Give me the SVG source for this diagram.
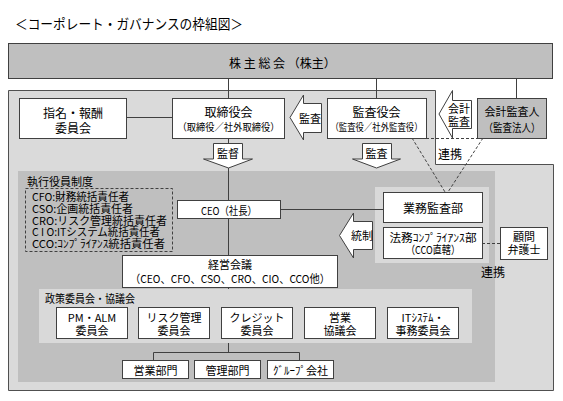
<svg xmlns="http://www.w3.org/2000/svg" width="563" height="401" viewBox="0 0 563 401">
<style>
.box{fill:#fff;stroke:#404040;stroke-width:1}
.gbox{fill:#bfbfbf;stroke:#404040;stroke-width:1}
.arr{fill:#fff;stroke:#404040;stroke-width:1}
.ln{stroke:#404040;stroke-width:1;fill:none}
.dl{stroke:#404040;stroke-width:1;fill:none;stroke-dasharray:3,2}
text{font-family:"Noto Sans CJK JP","Noto Sans",sans-serif;fill:#000;dominant-baseline:central}
.c{text-anchor:middle}
.s12{font-size:12px}
.s11{font-size:11px}
.s10{font-size:10px}
</style>
<rect x="0" y="0" width="563" height="401" fill="#fff"/>
<text x="15" y="23" font-size="14" textLength="228" lengthAdjust="spacingAndGlyphs">＜コーポレート・ガバナンスの枠組図＞</text>

<g id="backgrounds">
<polygon points="8.5,90.5 435.5,90.5 435.5,164.5 553.5,164.5 553.5,390.5 8.5,390.5" fill="#dadada" stroke="#505050" stroke-width="1"/>
<rect x="18" y="171" width="477" height="211" fill="#bfbfbf"/>
<rect x="375" y="187" width="114" height="76" fill="#d9d9d9"/>
<rect x="39" y="289" width="433" height="54" fill="#d9d9d9"/>
<text x="27" y="180.5" class="s11">執行役員制度</text>
<text x="45" y="298" class="s11" textLength="90" lengthAdjust="spacingAndGlyphs">政策委員会・協議会</text>
</g>

<g id="connectors">
<line class="ln" x1="228.5" y1="78" x2="228.5" y2="98"/>
<line class="ln" x1="376.5" y1="78" x2="376.5" y2="98"/>
<line class="ln" x1="516.5" y1="78" x2="516.5" y2="98"/>
<line class="ln" x1="126" y1="117.5" x2="172" y2="117.5"/>
<line class="ln" x1="228.5" y1="138" x2="228.5" y2="200"/>
<line class="ln" x1="228.5" y1="218" x2="228.5" y2="255"/>
<line class="ln" x1="228.5" y1="287" x2="228.5" y2="289"/>
<line class="ln" x1="228.5" y1="343" x2="228.5" y2="352.5"/>
<polyline class="ln" points="153.5,360 153.5,352.5 299.5,352.5 299.5,360"/>
<line class="ln" x1="280" y1="209.5" x2="383" y2="209.5"/>
<line class="dl" x1="426" y1="138.5" x2="477" y2="138.5"/>
<line class="dl" x1="412" y1="138" x2="445" y2="192"/>
<line class="dl" x1="483" y1="138" x2="448" y2="192"/>
<line class="dl" x1="482" y1="243.5" x2="500" y2="243.5"/>
<text x="450" y="153" class="c s12">連携</text>
<text x="493" y="271" class="c s12">連携</text>
</g>

<g id="arrows">
<g id="arrow-kantoku">
<polygon class="arr" points="213.5,143.5 242.5,143.5 242.5,159 252.5,159 228.5,168 203.5,159 213.5,159"/>
<text x="228" y="153" class="c s11">監督</text>
</g>
<g id="arrow-kansa-down">
<polygon class="arr" points="362.5,143.5 391.5,143.5 391.5,159 400.5,159 376.5,168 352.5,159 362.5,159"/>
<text x="376.5" y="153" class="c s11">監査</text>
</g>
<g id="arrow-kansa-left">
<polygon class="arr" points="321.5,103.5 303.5,103.5 303.5,95 290,117.5 303.5,140 303.5,132.5 321.5,132.5"/>
<text x="310" y="118" class="c s11">監査</text>
</g>
<g id="arrow-kaikei">
<polygon class="arr" points="471.5,100.5 452.5,100.5 452.5,90.5 439,114 452.5,138 452.5,128.5 471.5,128.5"/>
<text x="459" y="108" class="c s11">会計</text>
<text x="459" y="121" class="c s11">監査</text>
</g>
<g id="arrow-tousei">
<polygon class="arr" points="372.5,221.5 353.5,221.5 353.5,213 339.5,235.5 353.5,258 353.5,249.5 372.5,249.5"/>
<text x="362" y="235" class="c s11">統制</text>
</g>
</g>

<g id="kabunushi">
<rect class="gbox" x="8.5" y="43.5" width="544" height="35"/>
<text x="229" y="62" font-size="12"><tspan letter-spacing="2.7">株主総会</tspan>（株主）</text>
</g>
<g id="kaikei-kansanin">
<rect class="gbox" x="477.5" y="98.5" width="69" height="40"/>
<text x="512" y="111" class="c s11">会計監査人</text>
<text x="512" y="127" class="c s11" textLength="57" lengthAdjust="spacingAndGlyphs">（監査法人）</text>
</g>
<g id="shimei">
<rect class="box" x="19.5" y="98.5" width="107" height="40"/>
<text x="73" y="112" class="c s12">指名・報酬</text>
<text x="73" y="127" class="c s12">委員会</text>
</g>
<g id="torishimariyaku">
<rect class="box" x="172.5" y="98.5" width="112" height="40"/>
<text x="228.5" y="111" class="c s12">取締役会</text>
<text x="228.5" y="126" class="c s10" textLength="102" lengthAdjust="spacingAndGlyphs">（取締役／社外取締役）</text>
</g>
<g id="kansayaku">
<rect class="box" x="327.5" y="98.5" width="99" height="40"/>
<text x="376.5" y="111" class="c s12">監査役会</text>
<text x="376.5" y="126" class="c s10" textLength="92" lengthAdjust="spacingAndGlyphs">（監査役／社外監査役）</text>
</g>
<g id="officers">
<rect x="25.5" y="188.5" width="147" height="63" fill="none" class="dl"/>
<text x="32" y="195.5" class="s11" textLength="97" lengthAdjust="spacingAndGlyphs">CFO:財務統括責任者</text>
<text x="32" y="207.5" class="s11" textLength="101" lengthAdjust="spacingAndGlyphs">CSO:企画統括責任者</text>
<text x="32" y="219.5" class="s11" textLength="135" lengthAdjust="spacingAndGlyphs">CRO:リスク管理統括責任者</text>
<text x="32" y="231" class="s11" textLength="128" lengthAdjust="spacingAndGlyphs">C I O:ITシステム統括責任者</text>
<text x="32" y="242.5" class="s11" textLength="133" lengthAdjust="spacingAndGlyphs">CCO:ｺﾝﾌﾟﾗｲｱﾝｽ統括責任者</text>
</g>
<g id="ceo">
<rect class="box" x="177.5" y="200.5" width="103" height="18"/>
<text x="229" y="209.5" class="c s11" textLength="56" lengthAdjust="spacingAndGlyphs">CEO（社長）</text>
</g>
<g id="gyomu-kansa">
<rect class="box" x="383.5" y="192.5" width="99" height="30"/>
<text x="433" y="207.5" class="c s12">業務監査部</text>
</g>
<g id="homu">
<rect class="box" x="383.5" y="227.5" width="99" height="31"/>
<text x="433" y="236.5" class="c s11" textLength="87" lengthAdjust="spacingAndGlyphs">法務ｺﾝﾌﾟﾗｲｱﾝｽ部</text>
<text x="433" y="249" class="c s11" textLength="54" lengthAdjust="spacingAndGlyphs">（CCO直轄）</text>
</g>
<g id="komon">
<rect class="box" x="500.5" y="227.5" width="47" height="32"/>
<text x="524" y="235.5" class="c s11">顧問</text>
<text x="524" y="249" class="c s11">弁護士</text>
</g>
<g id="keiei-kaigi">
<rect class="box" x="122.5" y="255.5" width="215" height="32"/>
<text x="230" y="263.5" class="c s11">経営会議</text>
<text x="230" y="278" class="c s11" textLength="200" lengthAdjust="spacingAndGlyphs">（CEO、CFO、CSO、CRO、CIO、CCO他）</text>
</g>
<g id="pm-alm">
<rect class="box" x="56.5" y="307.5" width="71" height="31"/>
<text x="92" y="317" class="c s11">PM・ALM</text>
<text x="92" y="329.5" class="c s11">委員会</text>
</g>
<g id="risk">
<rect class="box" x="138.5" y="307.5" width="71" height="31"/>
<text x="174" y="317" class="c s11">リスク管理</text>
<text x="174" y="329.5" class="c s11">委員会</text>
</g>
<g id="credit">
<rect class="box" x="221.5" y="307.5" width="71" height="31"/>
<text x="257" y="317" class="c s11">クレジット</text>
<text x="257" y="329.5" class="c s11">委員会</text>
</g>
<g id="eigyo-kyogikai">
<rect class="box" x="304.5" y="307.5" width="71" height="31"/>
<text x="340" y="317" class="c s11">営業</text>
<text x="340" y="329.5" class="c s11">協議会</text>
</g>
<g id="it-jimu">
<rect class="box" x="387.5" y="307.5" width="71" height="31"/>
<text x="423" y="317" class="c s11">ITｼｽﾃﾑ・</text>
<text x="423" y="329.5" class="c s11">事務委員会</text>
</g>
<g id="eigyo-bumon">
<rect class="box" x="122.5" y="360.5" width="66" height="18"/>
<text x="155.5" y="369.5" class="c s11">営業部門</text>
</g>
<g id="kanri-bumon">
<rect class="box" x="194.5" y="360.5" width="66" height="18"/>
<text x="227.5" y="369.5" class="c s11">管理部門</text>
</g>
<g id="group">
<rect class="box" x="267.5" y="360.5" width="66" height="18"/>
<text x="300.5" y="369.5" class="c s11">ｸﾞﾙｰﾌﾟ会社</text>
</g>
</svg>
